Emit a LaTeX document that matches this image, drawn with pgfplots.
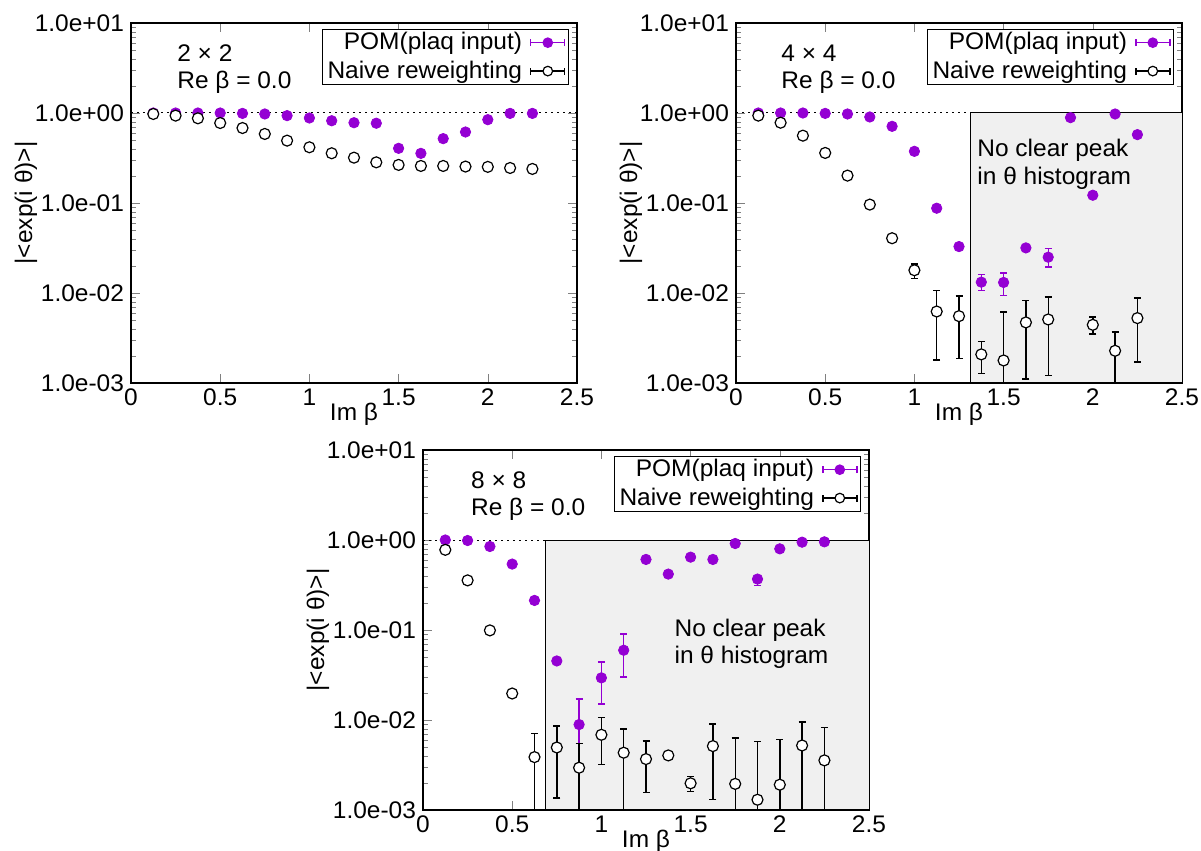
\documentclass[border=0pt]{standalone}
\usepackage{fontspec}
\setmainfont{Liberation Sans}[FakeStretch=1.02]
\usepackage{pgfplots}
\pgfplotsset{compat=1.18}
\usepackage{pgfplotstable}
\definecolor{pom}{RGB}{148,0,211}
\definecolor{shade}{RGB}{240,240,240}
\newcommand{\myfs}{\fontsize{12}{14.4}\selectfont}

\pgfplotstableread{
x y hi lo
0.125 1.0 1.0 1.0
0.25 1.0 1.0 1.0
0.375 1.0 1.0 1.0
0.5 1.0 1.0 1.0
0.625 0.99 0.99 0.99
0.75 0.975 0.975 0.975
0.875 0.935 0.935 0.935
1.0 0.88 0.88 0.88
1.125 0.82 0.82 0.82
1.25 0.78 0.78 0.78
1.375 0.77 0.77 0.77
1.5 0.405 0.405 0.405
1.625 0.356 0.356 0.356
1.75 0.519 0.519 0.519
1.875 0.615 0.615 0.615
2.0 0.843 0.843 0.843
2.125 0.99 0.99 0.99
2.25 0.99 0.99 0.99
}\pomA
\pgfplotstableread{
x y hi lo
0.125 0.975 0.975 0.975
0.25 0.935 0.935 0.935
0.375 0.873 0.873 0.873
0.5 0.774 0.774 0.774
0.625 0.681 0.681 0.681
0.75 0.585 0.585 0.585
0.875 0.493 0.493 0.493
1.0 0.416 0.416 0.416
1.125 0.357 0.357 0.357
1.25 0.319 0.319 0.319
1.375 0.283 0.283 0.283
1.5 0.265 0.265 0.265
1.625 0.258 0.258 0.258
1.75 0.258 0.258 0.258
1.875 0.254 0.254 0.254
2.0 0.252 0.252 0.252
2.125 0.245 0.245 0.245
2.25 0.239 0.239 0.239
}\naiveA
\pgfplotstableread{
x y hi lo
0.125 1.0 1.0 1.0
0.25 1.0 1.0 1.0
0.375 1.0 1.0 1.0
0.5 0.99 0.99 0.99
0.625 0.975 0.975 0.975
0.75 0.903 0.903 0.903
0.875 0.711 0.711 0.711
1.0 0.375 0.375 0.375
1.125 0.0875 0.0875 0.0875
1.25 0.0328 0.0328 0.0328
1.375 0.0132 0.016 0.0107
1.5 0.0131 0.0167 0.0094
1.625 0.0317 0.0317 0.0317
1.75 0.025 0.031 0.0194
1.875 0.888 0.888 0.888
2.0 0.122 0.122 0.122
2.125 0.975 0.975 0.975
2.25 0.575 0.575 0.575
}\pomB
\pgfplotstableread{
x y hi lo
0.125 0.935 0.935 0.935
0.25 0.78 0.78 0.78
0.375 0.56 0.56 0.56
0.5 0.36 0.36 0.36
0.625 0.2015 0.2015 0.2015
0.75 0.096 0.096 0.096
0.875 0.0406 0.0406 0.0406
1.0 0.0179 0.0211 0.0146
1.125 0.00623 0.01067 0.00181
1.25 0.00553 0.00923 0.00186
1.375 0.00208 0.0029 0.00127
1.5 0.00178 0.00613 0.0001
1.625 0.00471 0.00826 0.00111
1.75 0.00508 0.009 0.00122
2.0 0.00443 0.0054 0.00352
2.125 0.00228 0.00367 0.0001
2.25 0.00526 0.00884 0.00171
}\naiveB
\pgfplotstableread{
x y hi lo
0.125 1.0 1.0 1.0
0.25 0.987 0.987 0.987
0.375 0.847 0.847 0.847
0.5 0.54 0.54 0.54
0.625 0.213 0.213 0.213
0.75 0.0453 0.0453 0.0453
0.875 0.0089 0.0172 0.00001
1.0 0.0294 0.0441 0.015
1.125 0.0596 0.0904 0.0299
1.25 0.608 0.608 0.608
1.375 0.418 0.418 0.418
1.5 0.645 0.645 0.645
1.625 0.608 0.608 0.608
1.75 0.914 0.914 0.914
1.875 0.368 0.40 0.31
2.0 0.798 0.798 0.798
2.125 0.946 0.946 0.946
2.25 0.954 0.954 0.954
}\pomC
\pgfplotstableread{
x y hi lo
0.125 0.778 0.778 0.778
0.25 0.356 0.356 0.356
0.375 0.099 0.099 0.099
0.5 0.0197 0.0197 0.0197
0.625 0.00387 0.00703 0.0001
0.75 0.00495 0.00861 0.00136
0.875 0.00295 0.0055 0.0001
1.0 0.00685 0.01067 0.00319
1.125 0.00433 0.00798 0.0001
1.25 0.00368 0.00583 0.00157
1.375 0.00404 0.00404 0.00404
1.5 0.00198 0.00234 0.0016
1.625 0.00513 0.009 0.00131
1.75 0.00195 0.0063 0.0001
1.875 0.0013 0.00573 0.0001
2.0 0.00191 0.00608 0.0001
2.125 0.00521 0.00955 0.0001
2.25 0.00356 0.00826 0.0001
}\naiveC

\pgfplotsset{
  every axis/.append style={
    scale only axis, width=223pt, height=180pt,
    xmin=0, xmax=2.5, ymin=1e-3, ymax=10,
    xtick={0,0.5,1,1.5,2,2.5},
    xticklabels={\textrm{0},\textrm{0.5},\textrm{1},\textrm{1.5},\textrm{2},\textrm{2.5}},
    ytick={1e-3,1e-2,1e-1,1,10},
    yticklabels={\textrm{1.0e-03},\textrm{1.0e-02},\textrm{1.0e-01},\textrm{1.0e+00},\textrm{1.0e+01}},
    minor x tick num=0,
    tick label style={font=\myfs},
    xticklabel style={yshift=0.5pt},
    label style={font=\myfs},
    axis line style={line width=0.6pt},
    major tick length=4.5pt, minor tick length=2.5pt,
    xlabel={Im β}, ylabel={|<exp(i θ)>|},
    legend plot pos=right, legend cell align=right,
    legend style={at={(1,1)}, anchor=north east, xshift=-4pt, yshift=-3pt,
      draw=black, line width=0.5pt, font=\myfs, inner xsep=1.5pt, inner ysep=0.5pt,
      nodes={inner sep=1pt}, row sep=2pt,
      /tikz/every odd column/.append style={column sep=3pt}},
  },
  every axis x label/.style={at={(axis description cs:0.5,0)}, anchor=north, yshift=-10pt, inner sep=0pt},
  every axis y label/.style={at={(axis description cs:-0.2354,0.5)}, rotate=90, anchor=center},
  pomplot/.style={only marks, mark=*, color=pom, mark size=2.6pt,
    error bars/y dir=both, error bars/y explicit,
    error bars/error bar style={line width=0.7pt, pom},
    error bars/error mark options={rotate=90, mark size=1.75pt, line width=0.7pt, pom},
    legend image code/.code={
      \draw[pom, line width=0.7pt] (0pt,0pt) -- (17pt,0pt);
      \draw[pom, line width=0.7pt] (0pt,-1.75pt) -- (0pt,1.75pt) (17pt,-1.75pt) -- (17pt,1.75pt);
      \fill[pom] (8.5pt,0pt) circle (2.4pt);}},
  naiveplot/.style={only marks, mark=*, color=black, mark size=2.75pt,
    mark options={fill=white, draw=black, line width=0.6pt},
    error bars/y dir=both, error bars/y explicit,
    error bars/error bar style={line width=0.7pt, black},
    error bars/error mark options={rotate=90, mark size=1.75pt, line width=0.7pt, black},
    legend image code/.code={
      \draw[black, line width=0.7pt] (0pt,0pt) -- (17pt,0pt);
      \draw[black, line width=0.7pt] (0pt,-1.75pt) -- (0pt,1.75pt) (17pt,-1.75pt) -- (17pt,1.75pt);
      \draw[black, fill=white, line width=0.6pt] (8.5pt,0pt) circle (2.4pt);}},
  refline/.style={black, line width=0.5pt, dash pattern=on 1pt off 2pt, forget plot},
}

\begin{document}
\begin{tikzpicture}
\useasboundingbox (0,0) rectangle (600.5pt,425.5pt);

% 2x2
\begin{axis}[ymode=log, anchor=south west, at={(65.5pt,234pt)}]
\addplot[refline] coordinates {(0,1) (2.5,1)};
\addplot[pomplot] table[x=x, y=y, y error plus expr=\thisrow{hi}-\thisrow{y}, y error minus expr=\thisrow{y}-\thisrow{lo}] {\pomA};
\addlegendentry{POM(plaq input)}
\addplot[naiveplot] table[x=x, y=y, y error plus expr=\thisrow{hi}-\thisrow{y}, y error minus expr=\thisrow{y}-\thisrow{lo}] {\naiveA};
\addlegendentry{Naive reweighting}
\node[anchor=west, inner sep=0pt, font=\myfs] at (rel axis cs:0.103,0.917) {2 × 2};
\node[anchor=west, inner sep=0pt, font=\myfs] at (rel axis cs:0.103,0.836) {Re β = 0.0};
\end{axis}

% 4x4
\begin{axis}[ymode=log, anchor=south west, at={(368pt,234pt)}]
\addplot[fill=shade, draw=black, line width=0.5pt, forget plot] coordinates {(1.3125,1e-3) (1.3125,1) (2.5,1) (2.5,1e-3)} -- cycle;
\addplot[refline] coordinates {(0,1) (2.5,1)};
\addplot[pomplot] table[x=x, y=y, y error plus expr=\thisrow{hi}-\thisrow{y}, y error minus expr=\thisrow{y}-\thisrow{lo}] {\pomB};
\addlegendentry{POM(plaq input)}
\addplot[naiveplot] table[x=x, y=y, y error plus expr=\thisrow{hi}-\thisrow{y}, y error minus expr=\thisrow{y}-\thisrow{lo}] {\naiveB};
\addlegendentry{Naive reweighting}
\node[anchor=west, inner sep=0pt, font=\myfs] at (rel axis cs:0.101,0.917) {4 × 4};
\node[anchor=west, inner sep=0pt, font=\myfs] at (rel axis cs:0.101,0.836) {Re β = 0.0};
\node[anchor=west, inner sep=0pt, font=\myfs] at (axis cs:1.351,0.388) {No clear peak};
\node[anchor=west, inner sep=0pt, font=\myfs] at (axis cs:1.351,0.19) {in θ histogram};
\end{axis}

% 8x8
\begin{axis}[ymode=log, anchor=south west, at={(211.5pt,20.5pt)}]
\addplot[fill=shade, draw=black, line width=0.5pt, forget plot] coordinates {(0.6875,1e-3) (0.6875,1) (2.5,1) (2.5,1e-3)} -- cycle;
\addplot[refline] coordinates {(0,1) (2.5,1)};
\addplot[pomplot] table[x=x, y=y, y error plus expr=\thisrow{hi}-\thisrow{y}, y error minus expr=\thisrow{y}-\thisrow{lo}] {\pomC};
\addlegendentry{POM(plaq input)}
\addplot[naiveplot] table[x=x, y=y, y error plus expr=\thisrow{hi}-\thisrow{y}, y error minus expr=\thisrow{y}-\thisrow{lo}] {\naiveC};
\addlegendentry{Naive reweighting}
\node[anchor=west, inner sep=0pt, font=\myfs] at (rel axis cs:0.107,0.917) {8 × 8};
\node[anchor=west, inner sep=0pt, font=\myfs] at (rel axis cs:0.107,0.836) {Re β = 0.0};
\node[anchor=west, inner sep=0pt, font=\myfs] at (axis cs:1.408,0.0986) {No clear peak};
\node[anchor=west, inner sep=0pt, font=\myfs] at (axis cs:1.408,0.0495) {in θ histogram};
\end{axis}
\end{tikzpicture}
\end{document}
